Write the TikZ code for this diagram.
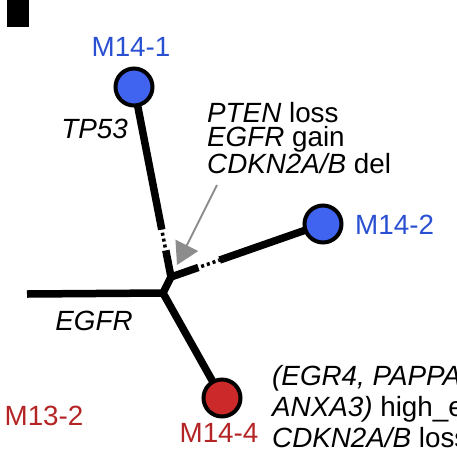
\documentclass[tikz,border=0pt]{standalone}
\usepackage{fontspec}
\setmainfont{Liberation Sans}
\usetikzlibrary{arrows.meta,calc,backgrounds}
\definecolor{tipFill}{HTML}{4064F0}
\definecolor{tipText}{HTML}{2A50D2}
\definecolor{mutFill}{HTML}{CC2A2A}
\definecolor{mutText}{HTML}{B42424}
\definecolor{arrGray}{HTML}{8C8C8C}

\begin{document}
\begin{tikzpicture}[
  x=1pt, y=-1pt,
  font=\fontsize{27.8}{23.5}\selectfont,
  leaf/.style  ={circle, draw=black, line width=4pt, minimum size=37pt, inner sep=0pt},
  branch/.style={line width=7.5pt, line join=miter},
  gap/.style   ={line width=3.5pt, dash pattern=on 3pt off 3pt, dash phase=3pt},
  lbl/.style   ={inner sep=0pt},
  gene/.style  ={lbl, font=\fontsize{27.8}{23.5}\selectfont\itshape},
  garr/.style  ={draw=arrGray, line width=2pt, -{Triangle[length=22pt,width=25pt]}},
]
\useasboundingbox (0,0) rectangle (457,453);

% panel mark
\fill (7,0) rectangle (29,27);

% ==================== tree ====================
\coordinate (root) at (27,294);
\coordinate (j) at (163,293);
\coordinate (k) at (171,277);

\node[leaf, fill=tipFill] (m141) at (134,87) {};
\node[leaf, fill=tipFill] (m142) at (323,224) {};
\node[leaf, fill=mutFill] (m144) at (222,398) {};

\begin{pgfonlayer}{background}
  \draw[branch] (root) -- (j) -- (m144.center);
  \draw[branch] (j) -- (k) -- ($(k)!0.14!(m141.center)$);
  \draw[gap] ($(k)!0.14!(m141.center)$) -- ($(k)!0.25!(m141.center)$);
  \draw[branch] ($(k)!0.25!(m141.center)$) -- (m141.center);
  \draw[branch] (k) -- ($(k)!0.18!(m142.center)$);
  \draw[gap] ($(k)!0.18!(m142.center)$) -- ($(k)!0.32!(m142.center)$);
  \draw[branch] ($(k)!0.32!(m142.center)$) -- (m142.center);
\end{pgfonlayer}

% ==================== labels ====================
\node[lbl, anchor=base, text=tipText] (l141) at (131,56) {M14-1};
\node[lbl, anchor=base west, text=tipText] (l142) at (355,234) {M14-2};
\node[lbl, anchor=base, text=mutText] (l144) at (219,442) {M14-4};
\node[lbl, anchor=base, text=mutText] (l132) at (44,425) {M13-2};

\node[gene, anchor=base east] (tp53) at (128,138) {TP53};
\node[gene, anchor=base] (egfr) at (94,330) {EGFR};

% multi-line nodes: base is the last line
\node[lbl, anchor=base west, align=left] (evt) at (207,173)
  {\textit{PTEN} loss\\\textit{EGFR} gain\\\textit{CDKN2A/B} del};
\node[lbl, anchor=base west, align=left, font=\fontsize{27.8}{31}\selectfont] (expr) at (272,447)
  {\textit{(EGR4, PAPPA}\\\textit{ANXA3)} high\_e\\\textit{CDKN2A/B} loss};

% pointer
\coordinate (gstart) at (217,185);
\coordinate (gtip) at (177,265);
\draw[garr] (gstart) -- (gtip);

\end{tikzpicture}
\end{document}
